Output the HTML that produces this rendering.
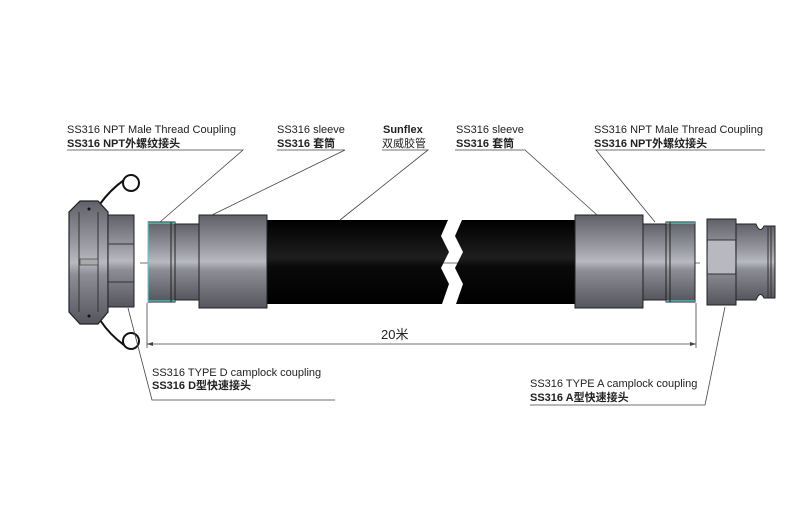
<!DOCTYPE html>
<html><head><meta charset="utf-8"><style>
html,body{margin:0;padding:0;background:#fff;}
svg{display:block;}
text{font-family:"Liberation Sans","Noto Sans CJK SC",sans-serif;font-size:11px;fill:#222;}
.b{font-weight:bold;}
</style></head><body>
<svg width="800" height="506" viewBox="0 0 800 506" xmlns="http://www.w3.org/2000/svg">
<defs>
<linearGradient id="m" x1="0" y1="0" x2="0" y2="1">
<stop offset="0" stop-color="#5f6068"/><stop offset="0.35" stop-color="#9a9ba3"/><stop offset="0.5" stop-color="#b9bac0"/><stop offset="0.6" stop-color="#8c8d95"/><stop offset="1" stop-color="#55565d"/></linearGradient>
<linearGradient id="h" x1="0" y1="0" x2="0" y2="1">
<stop offset="0" stop-color="#000"/><stop offset="0.45" stop-color="#1e1e1e"/><stop offset="0.55" stop-color="#0a0a0a"/><stop offset="1" stop-color="#000"/></linearGradient>
</defs>
<line x1="140" y1="263" x2="700" y2="263" stroke="#444" stroke-width="0.7"/>
<!-- hose -->
<polygon points="266,220 448,220 441,236 449,252 441,268 449,284 442,304 266,304" fill="url(#h)"/>
<polygon points="462,220 576,220 576,304 456,304 463,284 455,268 463,252 455,236" fill="url(#h)"/>
<!-- left coupling -->
<circle cx="131" cy="183" r="8" fill="none" stroke="#111" stroke-width="2"/>
<circle cx="131" cy="341" r="8" fill="none" stroke="#111" stroke-width="2"/>
<path d="M100,204 Q110,190 124,180 M100,320 Q110,335 124,345" stroke="#111" stroke-width="2" fill="none"/>
<polygon points="80,201 98,201 108,212 108,312 98,324 80,324 69,312 69,212" fill="url(#m)" stroke="#222" stroke-width="1.2"/>
<line x1="79" y1="212" x2="79" y2="312" stroke="#333"/><line x1="98" y1="212" x2="98" y2="312" stroke="#333"/>
<rect x="80" y="259" width="18" height="6" fill="#aaa" stroke="#333" stroke-width="0.6"/>
<circle cx="89" cy="209" r="1.5" fill="#111"/><circle cx="89" cy="316" r="1.5" fill="#111"/>
<rect x="108" y="215" width="26" height="92" fill="url(#m)" stroke="#222"/>
<line x1="108" y1="244" x2="134" y2="244" stroke="#333"/><line x1="108" y1="282" x2="134" y2="282" stroke="#333"/>
<!-- left nipple -->
<rect x="175" y="224" width="25" height="76" fill="url(#m)" stroke="#222"/>
<rect x="148" y="222" width="27" height="80" fill="url(#m)" stroke="#222"/>
<line x1="148" y1="223" x2="175" y2="223" stroke="#5cc" stroke-width="1.2"/><line x1="148" y1="301" x2="175" y2="301" stroke="#5cc" stroke-width="1.2"/>
<line x1="148" y1="222" x2="148" y2="302" stroke="#5cc" stroke-width="1"/>
<line x1="171" y1="222" x2="171" y2="302" stroke="#222"/>
<!-- sleeves -->
<rect x="199" y="215" width="68" height="93" fill="url(#m)" stroke="#222"/>
<rect x="575" y="215" width="68" height="93" fill="url(#m)" stroke="#222"/>
<!-- right nipple -->
<rect x="643" y="224" width="25" height="76" fill="url(#m)" stroke="#222"/>
<rect x="666" y="222" width="29" height="80" fill="url(#m)" stroke="#222"/>
<line x1="666" y1="223" x2="695" y2="223" stroke="#5cc" stroke-width="1.2"/><line x1="666" y1="301" x2="695" y2="301" stroke="#5cc" stroke-width="1.2"/>
<line x1="670" y1="222" x2="670" y2="302" stroke="#222"/>
<!-- right coupling -->
<path d="M736,224 L756,224 Q760,234 764,226 L775,226 L775,298 L764,298 Q760,290 756,300 L736,300 Z" fill="url(#m)" stroke="#222"/>
<line x1="768" y1="226" x2="768" y2="298" stroke="#333"/><line x1="771" y1="226" x2="771" y2="298" stroke="#333"/>
<rect x="707" y="219" width="29" height="86" fill="url(#m)" stroke="#222"/>
<rect x="708" y="240" width="27" height="34" fill="#b8b9c0"/>
<line x1="707" y1="240" x2="736" y2="240" stroke="#333"/><line x1="707" y1="274" x2="736" y2="274" stroke="#333"/>
<!-- dimension -->
<line x1="147" y1="303" x2="147" y2="348" stroke="#444" stroke-width="0.8"/>
<line x1="696" y1="303" x2="696" y2="348" stroke="#444" stroke-width="0.8"/>
<line x1="147" y1="344" x2="696" y2="344" stroke="#444" stroke-width="0.8"/>
<polygon points="147,344 153,342 153,346" fill="#444"/><polygon points="696,344 690,342 690,346" fill="#444"/>
<text x="381" y="339" style="font-size:13px">20米</text>
<g stroke="#444" stroke-width="0.8" fill="none">
<polyline points="67,150 243,150 160,222"/>
<polyline points="277,150 345,150 212,215"/>
<polyline points="382,150 428,150 340,220"/>
<polyline points="455,150 525,150 597,215"/>
<polyline points="765,150 596,150 655,222"/>
<polyline points="128,308 152,400 335,400"/>
<polyline points="530,405 705,405 725,307"/>
</g>
<text x="67" y="133">SS316 NPT Male Thread Coupling</text>
<text x="67" y="147" class="b">SS316 NPT外螺纹接头</text>
<text x="277" y="133">SS316 sleeve</text>
<text x="277" y="147" class="b">SS316 套筒</text>
<text x="383" y="133" class="b">Sunflex</text>
<text x="382" y="147">双威胶管</text>
<text x="456" y="133">SS316 sleeve</text>
<text x="456" y="147" class="b">SS316 套筒</text>
<text x="594" y="133">SS316 NPT Male Thread Coupling</text>
<text x="594" y="147" class="b">SS316 NPT外螺纹接头</text>
<text x="152" y="376">SS316 TYPE D camplock coupling</text>
<text x="152" y="389" class="b">SS316 D型快速接头</text>
<text x="530" y="387">SS316 TYPE A camplock coupling</text>
<text x="530" y="401" class="b">SS316 A型快速接头</text>
</svg>
</body></html>
